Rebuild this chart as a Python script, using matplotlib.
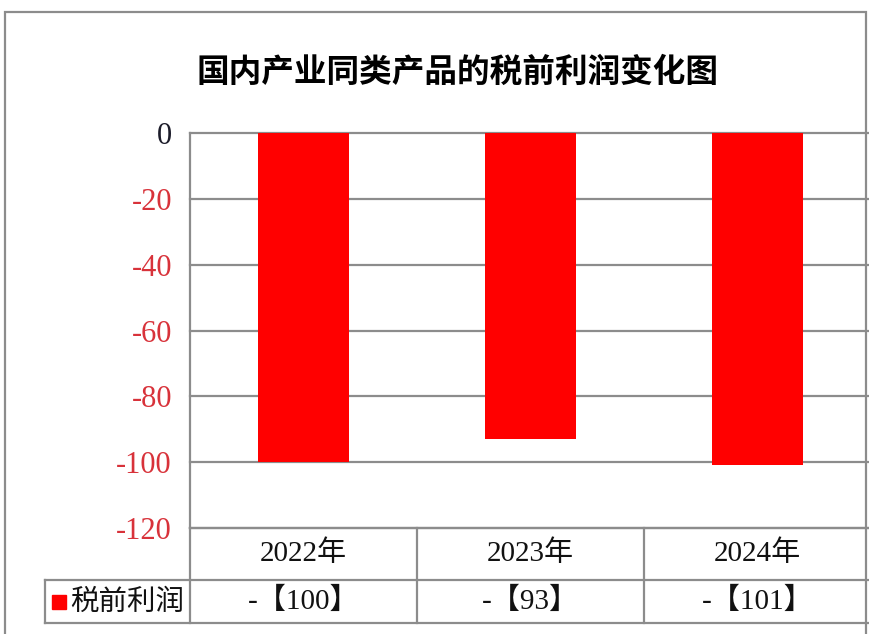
import matplotlib
matplotlib.use("Agg")
import matplotlib.pyplot as plt
from matplotlib.patches import Rectangle
import matplotlib.transforms as mtransforms

plt.rcParams['font.family'] = ['Liberation Serif', 'Noto Sans CJK SC', 'DejaVu Sans']

title = "国内产业同类产品的税前利润变化图"
categories = ["2022年", "2023年", "2024年"]
values = [-100, -93, -101]
table_values = ["-【100】", "-【93】", "-【101】"]
series_name = "税前利润"
yticks = [0, -20, -40, -60, -80, -100, -120]

W, H = 870, 634
fig = plt.figure(figsize=(W / 100, H / 100), dpi=100)

# outer border
fig.add_artist(Rectangle((5 / W, -0.05), (866 - 5) / W, 1.05 - 12 / H,
                         transform=fig.transFigure, fill=False,
                         edgecolor='#8c8c8c', linewidth=1.6))

left, right = 190 / W, 871 / W
top, bottom = 1 - 133 / H, 1 - 528 / H
ax = fig.add_axes([left, bottom, right - left, top - bottom])

x = list(range(len(categories)))
ax.bar(x, values, width=0.4, color='#ff0000', zorder=3)
ax.set_xlim(-0.5, len(categories) - 0.5)
ax.set_ylim(-120, 0)
ax.set_yticks(yticks)
ax.set_yticklabels([str(v) for v in yticks], fontsize=22)
for lbl, v in zip(ax.get_yticklabels(), yticks):
    lbl.set_color('#1c1c2a' if v == 0 else '#d8323a')
ax.tick_params(axis='y', length=0, pad=13)
ax.tick_params(axis='x', length=0, labelbottom=False)
ax.yaxis.grid(True, color='#8c8c8c', linewidth=1.6, zorder=1)
for gl in ax.get_ygridlines():
    gl.set_clip_on(False)
for s in ['top', 'right', 'bottom']:
    ax.spines[s].set_visible(False)
ax.spines['left'].set_color('#8c8c8c')
ax.spines['left'].set_linewidth(1.6)

fig.text(458 / W, 1 - 72 / H, title, ha='center', va='center', fontsize=23.5,
         fontweight='bold', family=['Noto Sans CJK SC'])

# data table drawn below the axes
trans = mtransforms.blended_transform_factory(ax.transData, ax.transAxes)
ah = 395.0
r1 = -52 / ah
r2 = -95 / ah
xl_label = -0.5 - (190 - 45) / 227.0
xr = len(categories) - 0.5
lc = '#8c8c8c'
lw = 1.6
kw = dict(transform=trans, color=lc, linewidth=lw, clip_on=False)
ax.plot([-0.5, xr], [0, 0], **kw)
ax.plot([xl_label, xr], [r1, r1], **kw)
ax.plot([xl_label, xr], [r2, r2], **kw)
ax.plot([xl_label, xl_label], [r1, r2], **kw)
for i in range(len(categories) + 1):
    xb = i - 0.5
    ax.plot([xb, xb], [0, r2], **kw)
for i, (c, tv) in enumerate(zip(categories, table_values)):
    ax.text(i, r1 / 2, c, transform=trans, ha='center', va='center',
            fontsize=21, color='#111111', clip_on=False)
    ax.text(i, (r1 + r2) / 2, tv, transform=trans, ha='center',
            va='center', fontsize=21, color='#111111', clip_on=False)
# legend key + series name
ax.add_patch(Rectangle((xl_label + 7 / 227, (r1 + r2) / 2 - 7 / ah), 14 / 227, 14 / ah,
                       transform=trans, color='#ff0000', clip_on=False))
ax.text(xl_label + 25 / 227, (r1 + r2) / 2, series_name, transform=trans,
        ha='left', va='center', fontsize=20.5, color='#111111', clip_on=False,
        family=['Noto Sans CJK SC'])

fig.savefig("out.png", dpi=100)
